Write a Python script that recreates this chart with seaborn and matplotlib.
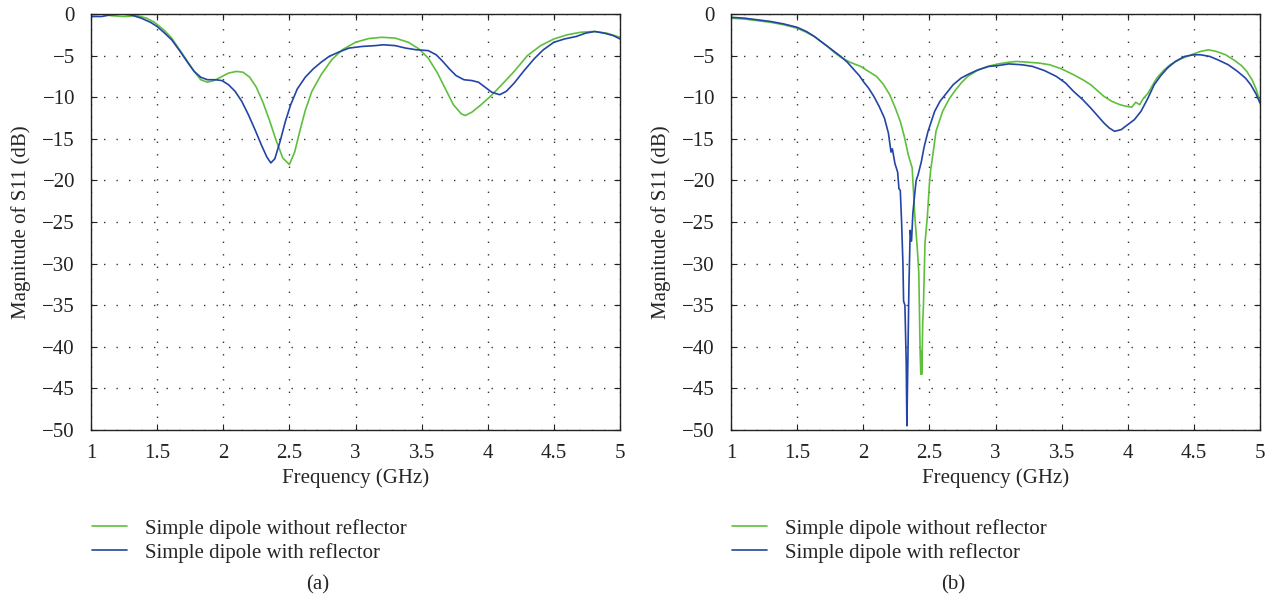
import numpy as np
import pandas as pd
import matplotlib
matplotlib.use("Agg")
import matplotlib.pyplot as plt
import seaborn as sns

# ---------------- data ----------------
SERIES = ["Simple dipole without reflector", "Simple dipole with reflector"]
COLORS = ["#5fbf3c", "#2444a6"]

# panel (a)
fa_green = [1.0, 1.08, 1.15, 1.25, 1.35, 1.42, 1.48, 1.55, 1.61, 1.67, 1.73, 1.78, 1.83, 1.88,
            1.93, 1.98, 2.04, 2.1, 2.15, 2.2, 2.25, 2.3, 2.35, 2.4, 2.45, 2.5, 2.54, 2.58, 2.62,
            2.67, 2.74, 2.82, 2.9, 3.0, 3.1, 3.2, 3.3, 3.4, 3.48, 3.55, 3.62, 3.68, 3.74, 3.8,
            3.83, 3.88, 3.95, 4.02, 4.1, 4.2, 4.3, 4.4, 4.5, 4.6, 4.7, 4.8, 4.9, 5.0]
sa_green = [-0.1, 0.0, -0.2, -0.3, -0.2, -0.5, -1.0, -1.9, -2.9, -4.3, -5.7, -6.9, -7.9, -8.2,
            -8.0, -7.6, -7.1, -6.9, -7.0, -7.6, -8.8, -10.6, -12.8, -15.2, -17.3, -18.1, -16.6,
            -14.0, -11.6, -9.3, -7.3, -5.5, -4.3, -3.4, -2.95, -2.8, -2.9, -3.4, -4.2, -5.3,
            -7.1, -9.0, -10.9, -12.0, -12.2, -11.8, -10.9, -9.9, -8.6, -6.9, -5.0, -3.8, -3.0,
            -2.5, -2.2, -2.1, -2.3, -2.8]

fa_blue = [1.0, 1.08, 1.15, 1.23, 1.3, 1.38, 1.45, 1.5, 1.55, 1.61, 1.67, 1.73, 1.78, 1.83,
           1.88, 1.94, 1.99, 2.04, 2.09, 2.14, 2.19, 2.24, 2.29, 2.33, 2.36, 2.39, 2.43, 2.47,
           2.51, 2.56, 2.62, 2.68, 2.74, 2.8, 2.87, 2.95, 3.05, 3.15, 3.21, 3.3, 3.38, 3.46,
           3.55, 3.61, 3.66, 3.71, 3.76, 3.82, 3.88, 3.93, 3.98, 4.03, 4.09, 4.14, 4.2, 4.27,
           4.35, 4.42, 4.5, 4.58, 4.67, 4.74, 4.81, 4.88, 4.95, 5.0]
sa_blue = [-0.3, -0.3, -0.1, 0.0, -0.1, -0.5, -1.0, -1.5, -2.2, -3.1, -4.4, -5.8, -6.9, -7.6,
           -7.9, -7.9, -8.0, -8.5, -9.3, -10.5, -12.1, -13.9, -15.8, -17.2, -17.9, -17.4, -15.3,
           -12.9, -10.9, -9.0, -7.6, -6.6, -5.8, -5.1, -4.6, -4.1, -3.9, -3.8, -3.7, -3.8, -4.1,
           -4.3, -4.4, -4.9, -5.7, -6.6, -7.4, -7.9, -8.0, -8.2, -8.8, -9.4, -9.7, -9.3, -8.3,
           -6.9, -5.4, -4.3, -3.4, -3.0, -2.7, -2.3, -2.1, -2.3, -2.6, -3.0]

# panel (b)
fb_green = [1.0, 1.1, 1.2, 1.3, 1.4, 1.5, 1.57, 1.63, 1.68, 1.73, 1.78, 1.83, 1.9, 1.98, 2.04,
            2.1, 2.15, 2.2, 2.24, 2.28, 2.31, 2.34, 2.37, 2.39, 2.41, 2.42, 2.43, 2.435, 2.438,
            2.442, 2.45, 2.455, 2.467, 2.485, 2.5, 2.51, 2.53, 2.55, 2.6, 2.65, 2.69, 2.74, 2.79,
            2.86, 2.94, 3.02, 3.1, 3.16, 3.25, 3.33, 3.41, 3.5, 3.59, 3.66, 3.72, 3.77, 3.82,
            3.88, 3.94, 3.99, 4.03, 4.06, 4.09, 4.12, 4.15, 4.19, 4.22, 4.27, 4.32, 4.4, 4.48,
            4.55, 4.61, 4.67, 4.74, 4.8, 4.86, 4.9, 4.94, 4.97, 5.0]
sb_green = [-0.5, -0.6, -0.8, -1.0, -1.3, -1.7, -2.2, -2.7, -3.3, -3.9, -4.6, -5.2, -5.8, -6.3,
            -6.9, -7.5, -8.4, -9.7, -11.2, -12.9, -14.7, -16.9, -18.5, -24.3, -28.5, -31.1,
            -40.5, -43.3, -40.5, -43.3, -37.0, -35.1, -27.5, -24.3, -20.5, -18.7, -16.5, -14.1,
            -11.7, -10.2, -9.3, -8.3, -7.5, -6.8, -6.3, -6.0, -5.8, -5.7, -5.8, -5.9, -6.1,
            -6.6, -7.3, -7.9, -8.5, -9.2, -9.9, -10.5, -10.9, -11.1, -11.2, -10.6, -10.9,
            -10.1, -9.6, -8.5, -7.7, -6.8, -6.1, -5.4, -4.9, -4.5, -4.3, -4.5, -4.9, -5.5,
            -6.2, -6.9, -7.9, -9.0, -10.5]

fb_blue = [1.0, 1.1, 1.2, 1.3, 1.4, 1.5, 1.57, 1.63, 1.68, 1.73, 1.78, 1.83, 1.88, 1.93, 1.97,
           2.0, 2.04, 2.08, 2.12, 2.16, 2.19, 2.21, 2.22, 2.24, 2.26, 2.27, 2.28, 2.29, 2.3,
           2.305, 2.315, 2.325, 2.33, 2.337, 2.345, 2.355, 2.365, 2.375, 2.39, 2.4, 2.415,
           2.44, 2.46, 2.49, 2.54, 2.58, 2.62, 2.68, 2.74, 2.8, 2.87, 2.95, 3.02, 3.1, 3.2,
           3.28, 3.37, 3.46, 3.53, 3.59, 3.66, 3.72, 3.77, 3.82, 3.86, 3.9, 3.95, 4.0, 4.05,
           4.1, 4.15, 4.2, 4.25, 4.3, 4.36, 4.43, 4.5, 4.55, 4.62, 4.68, 4.76, 4.83, 4.89,
           4.93, 4.97, 5.0]
sb_blue = [-0.4, -0.5, -0.7, -0.9, -1.2, -1.6, -2.1, -2.7, -3.3, -3.9, -4.5, -5.1, -5.8, -6.7,
           -7.4, -8.1, -8.9, -9.9, -11.1, -12.5, -14.3, -16.6, -16.2, -18.0, -19.0, -21.0,
           -21.2, -25.0, -30.0, -34.5, -35.0, -42.0, -49.5, -42.0, -33.0, -26.0, -27.3, -24.0,
           -21.5, -20.0, -19.3, -17.7, -16.0, -14.1, -11.7, -10.5, -9.7, -8.5, -7.7, -7.2,
           -6.7, -6.3, -6.2, -6.0, -6.1, -6.3, -6.8, -7.5, -8.3, -9.3, -10.3, -11.3, -12.2,
           -13.1, -13.7, -14.1, -13.9, -13.3, -12.7, -11.7, -10.2, -8.5, -7.4, -6.5, -5.7,
           -5.1, -4.9, -4.9, -5.1, -5.5, -6.1, -6.9, -7.7, -8.5, -9.6, -10.7]

X_TICKS = [1, 1.5, 2, 2.5, 3, 3.5, 4, 4.5, 5]
X_TICKLABELS = ["1", "1.5", "2", "2.5", "3", "3.5", "4", "4.5", "5"]
Y_TICKS = [0, -5, -10, -15, -20, -25, -30, -35, -40, -45, -50]
Y_TICKLABELS = ["0"] + ["\u2212%d" % (-v) for v in Y_TICKS[1:]]
XLABEL = "Frequency (GHz)"
YLABEL = "Magnitude of S11 (dB)"
CAPTIONS = ["(a)", "(b)"]

# ---------------- plotting ----------------
sns.set_theme(style="ticks")
plt.rcParams["font.family"] = ["Liberation Serif", "DejaVu Serif"]
FS = 15

fig = plt.figure(figsize=(12.71, 6.04), dpi=100)
ax_a = fig.add_axes([91 / 1271, 1 - 430 / 604, 529 / 1271, 416 / 604])
ax_b = fig.add_axes([731 / 1271, 1 - 430 / 604, 529 / 1271, 416 / 604])

panels = [
    (ax_a, [(fa_green, sa_green), (fa_blue, sa_blue)]),
    (ax_b, [(fb_green, sb_green), (fb_blue, sb_blue)]),
]

for i, (ax, series) in enumerate(panels):
    frames = []
    for name, (f, s) in zip(SERIES, series):
        frames.append(pd.DataFrame({"f": f, "s": s, "series": name}))
    df = pd.concat(frames, ignore_index=True)
    sns.lineplot(data=df, x="f", y="s", hue="series", hue_order=SERIES,
                 palette=COLORS, ax=ax, linewidth=1.2, sort=False,
                 estimator=None)
    ax.set_xlim(1, 5)
    ax.set_ylim(-50, 0)
    ax.set_xticks(X_TICKS)
    ax.set_xticklabels(X_TICKLABELS, fontsize=FS)
    ax.set_yticks(Y_TICKS)
    ax.set_yticklabels(Y_TICKLABELS, fontsize=FS)
    ax.set_xlabel(XLABEL, fontsize=FS, labelpad=4)
    ax.set_ylabel(YLABEL, fontsize=FS, labelpad=8)
    ax.tick_params(direction="in", top=True, right=True, length=4, width=0.8,
                   colors="#222222", labelcolor="#222222")
    ax.tick_params(axis="x", pad=10)
    ax.tick_params(axis="y", pad=11.5)
    for sp in ax.spines.values():
        sp.set_linewidth(1.0)
        sp.set_color("#222222")
        sp.set_visible(True)
    ax.grid(True, color="#333333", linestyle=(0, (1, 8)), linewidth=1.0)
    ax.set_axisbelow(True)
    handles, labels = ax.get_legend_handles_labels()
    ax.legend(handles, labels, loc="upper left", bbox_to_anchor=(-0.034, -0.168),
              frameon=False, fontsize=FS, handlelength=1.7, handletextpad=0.85,
              labelspacing=0.2)
    fig.text((0.25 if i == 0 else 0.75), 1 - 585 / 604, CAPTIONS[i],
             ha="center", va="center", fontsize=FS)

fig.savefig("out.png", dpi=100)
